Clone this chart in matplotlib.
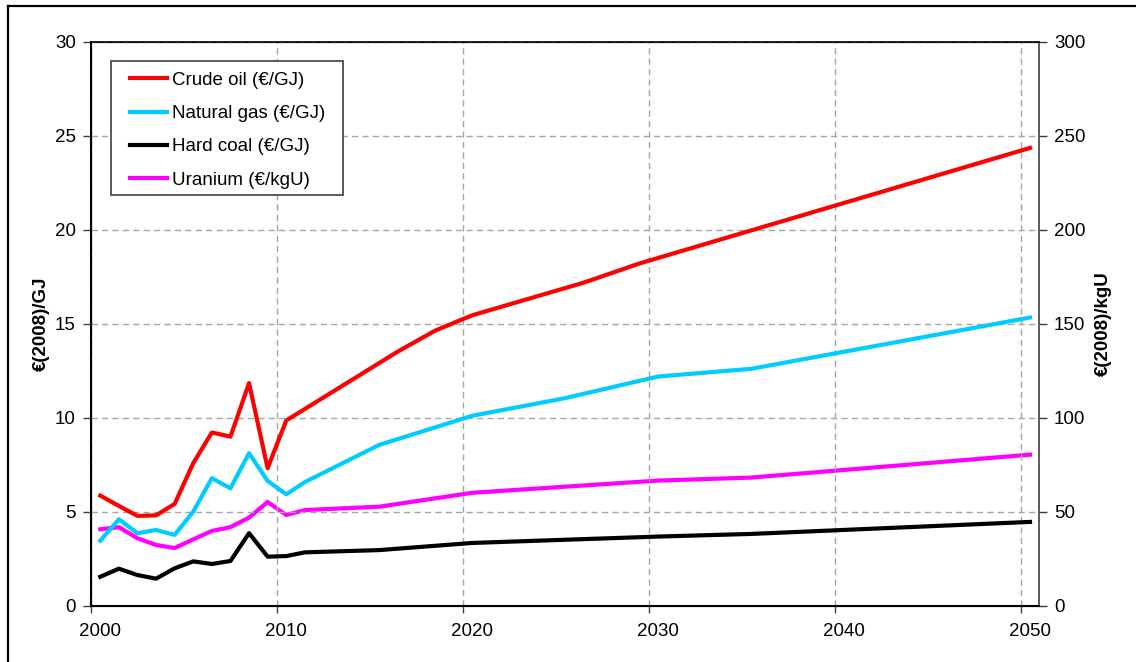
import matplotlib
matplotlib.use("Agg")
import matplotlib.pyplot as plt
from matplotlib.patches import Rectangle
from matplotlib.ticker import FixedLocator, NullFormatter, FixedFormatter

plt.rcParams['font.family'] = ['Liberation Sans', 'DejaVu Sans']

# ---- data ----
hist_years = list(range(2000, 2012))

oil_years = list(range(2000, 2011)) + [2016, 2018, 2020, 2026, 2029, 2050]
oil = [5.85, 5.30, 4.77, 4.80, 5.41, 7.58, 9.21, 8.99, 11.84, 7.31, 9.85,
       13.52, 14.63, 15.45, 17.19, 18.21, 24.36]

gas_years = hist_years + [2015, 2020, 2025, 2030, 2035, 2050]
gas = [3.45, 4.59, 3.85, 4.02, 3.76, 5.00, 6.78, 6.24, 8.11, 6.63, 5.92, 6.57,
       8.55, 10.10, 11.04, 12.19, 12.60, 15.33]

coal_years = hist_years + [2015, 2020, 2030, 2035, 2050]
coal = [1.53, 1.96, 1.62, 1.43, 1.98, 2.35, 2.21, 2.37, 3.85, 2.60, 2.63, 2.83,
        2.95, 3.33, 3.67, 3.81, 4.45]

uran_years = hist_years + [2015, 2020, 2030, 2035, 2050]
uranium = [40.6, 41.7, 35.8, 32.2, 30.6, 35.2, 39.7, 41.7, 46.8, 55.1, 48.2, 50.8,
           52.6, 60.0, 66.5, 68.1, 80.3]   # €/kgU (right axis)

labels = ['Crude oil (€/GJ)', 'Natural gas (€/GJ)', 'Hard coal (€/GJ)', 'Uranium (€/kgU)']
colors = ['#FF0000', '#00CCFF', '#000000', '#FF00FF']

left_ticks = [0, 5, 10, 15, 20, 25, 30]
right_ticks = [0, 50, 100, 150, 200, 250, 300]
year_labels = [2000, 2010, 2020, 2030, 2040, 2050]

# ---- figure ----
fig = plt.figure(figsize=(11.36, 6.62), dpi=100)
W, H = 1136, 662
ax = fig.add_axes([91 / W, 1 - 605.5 / H, (1039.3 - 91) / W, (605.5 - 42) / H])
ax2 = ax.twinx()

fs = 13.5
lw = 3.0
ax.plot(oil_years, oil, color=colors[0], lw=lw, label=labels[0], zorder=5)
ax.plot(gas_years, gas, color=colors[1], lw=lw, label=labels[1], zorder=5)
ax.plot(coal_years, coal, color=colors[2], lw=lw, label=labels[2], zorder=5)
ax2.plot(uran_years, uranium, color=colors[3], lw=lw, label=labels[3], zorder=5)

ax.set_xlim(1999.5, 2050.5)
ax.set_ylim(0, 30)
ax2.set_ylim(0, 300)

ax.set_yticks(left_ticks)
ax2.set_yticks(right_ticks)

# x: gridlines/ticks at year boundaries, labels at mid-year positions
ax.xaxis.set_major_locator(FixedLocator([y - 0.5 for y in year_labels]))
ax.xaxis.set_major_formatter(NullFormatter())
ax.xaxis.set_minor_locator(FixedLocator(year_labels))
ax.xaxis.set_minor_formatter(FixedFormatter([str(y) for y in year_labels]))
ax.tick_params(axis='x', which='major', direction='out', length=5, width=1, color='#404040')
ax.tick_params(axis='x', which='minor', length=0, pad=12.5, labelsize=fs)

ax.tick_params(axis='y', direction='out', length=6, width=1, pad=5.0, labelsize=fs, color='#404040')
ax2.tick_params(axis='y', direction='out', length=6, width=1, pad=4.5, labelsize=fs, color='#404040')

grid_kw = dict(color='#A6A6A6', linestyle=(0, (4.5, 3)), linewidth=1.0)
ax.grid(True, which='major', axis='both', **grid_kw)
ax.set_axisbelow(True)

for s in ['left', 'bottom']:
    ax.spines[s].set_linewidth(1.5)
    ax.spines[s].set_color('black')
ax.spines['top'].set_linewidth(1.2)
ax.spines['top'].set_color('black')
ax2.spines['right'].set_linewidth(1.2)
ax2.spines['right'].set_color('#404040')
ax.spines['right'].set_visible(False)

ax.set_ylabel('€(2008)/GJ', fontsize=fs, fontweight='bold')
ax.yaxis.set_label_coords(-0.0432, 0.5)
ax2.set_ylabel('€(2008)/kgU', fontsize=fs, fontweight='bold', rotation=90)
ax2.yaxis.set_label_coords(1.0587, 0.5)

ax.set_zorder(ax2.get_zorder() + 1)
ax.patch.set_visible(False)

# legend: box drawn separately, entries placed inside
ax.add_patch(Rectangle((0.0211, 0.7285), 0.2657 - 0.0211, 0.9663 - 0.7285,
                       transform=ax.transAxes, facecolor='white', edgecolor='#404040',
                       linewidth=1.2, zorder=9))
h1, l1 = ax.get_legend_handles_labels()
h2, l2 = ax2.get_legend_handles_labels()
leg = ax.legend(h1 + h2, l1 + l2, loc='upper left', bbox_to_anchor=(0.0411, 0.9473),
                borderaxespad=0, borderpad=0, fontsize=fs, handlelength=1.97,
                handletextpad=0.27, labelspacing=0.86, frameon=False)
leg.set_zorder(10)

# outer border (top & left visible)
fig.add_artist(plt.Line2D([8 / W, 8 / W], [0, 1 - 6 / H], transform=fig.transFigure,
                          color='black', lw=1.6))
fig.add_artist(plt.Line2D([8 / W, 1], [1 - 6 / H, 1 - 6 / H], transform=fig.transFigure,
                          color='black', lw=1.6))

fig.savefig('out.png', dpi=100)
